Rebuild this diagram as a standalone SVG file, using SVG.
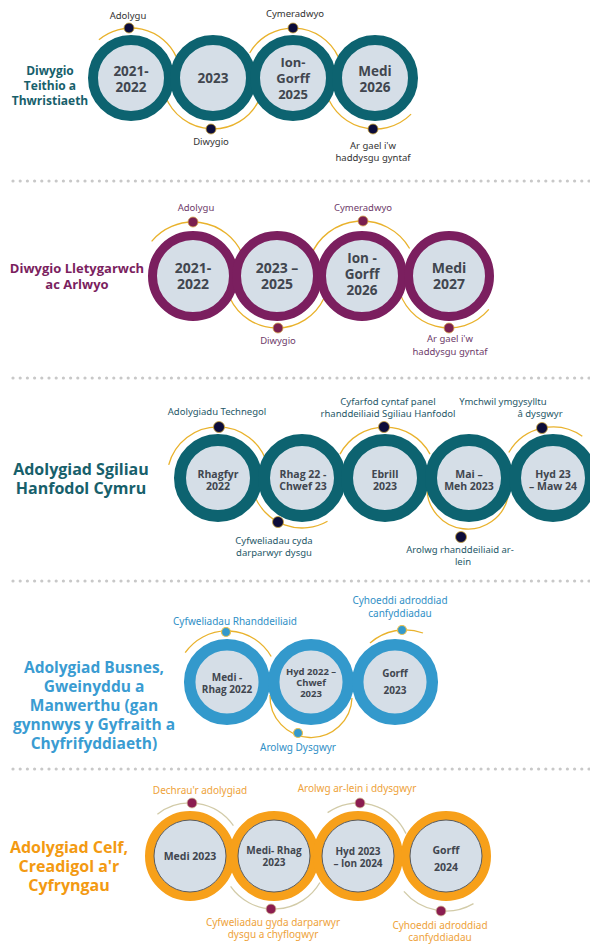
<svg xmlns="http://www.w3.org/2000/svg" width="590" height="944" viewBox="0 0 590 944">
<style>
.bg{fill:#ffffff}
.sep{stroke:#c8c8c8;stroke-width:3.2;stroke-linecap:round;stroke-dasharray:0 7.2;fill:none}
.arc{fill:none;stroke:#e9b22c;stroke-width:1.3}
.arc5{fill:none;stroke:#d2cba8;stroke-width:1.3}
.inner{fill:#d5dee7}
.r1{fill:none;stroke:#0d6370}
.r2{fill:none;stroke:#7b1f5f}
.r4{fill:none;stroke:#3399cc}
.r5{fill:none;stroke:#f7a01a}
.in5{fill:#d5dee7;stroke:#5a5a5a;stroke-width:1}
.dn{fill:#0c0c3a;stroke:#c9a33a;stroke-width:0.8}
.dp{fill:#7a1f4f;stroke:#d8a850;stroke-width:0.8}
.db{fill:#3399cc;stroke:#e8c050;stroke-width:1.2}
.dm{fill:#8b1d50;stroke:#d8c8a0;stroke-width:0.8}
.ct{font-family:"Open Sans",sans-serif;font-weight:bold;fill:#41464f;text-anchor:middle}
.tt{font-family:"Open Sans",sans-serif;font-weight:bold;text-anchor:middle}
.lb{font-family:"Noto Sans",sans-serif;text-anchor:middle}
</style>
<rect class="bg" x="0" y="0" width="590" height="944"/>

<g id="separators">
<line class="sep" x1="13" y1="181" x2="590" y2="181"/>
<line class="sep" x1="13" y1="378" x2="590" y2="378"/>
<line class="sep" x1="13" y1="581" x2="590" y2="581"/>
<line class="sep" x1="13" y1="769" x2="590" y2="769"/>
</g>

<g id="connectors">
<path class="arc" d="M98.9 39.7 A50 50 0 0 1 176.3 56.9"/>
<path class="arc" d="M259.2 99.6 A51 51 0 0 1 165.1 95.4"/>
<path class="arc" d="M249.7 53 A50 50 0 0 1 338.3 56.9"/>
<path class="arc" d="M411.1 114.1 A51 51 0 0 1 324.8 86.9"/>

<path class="arc" d="M151.6 241.3 A54 54 0 0 1 241.9 253.2"/>
<path class="arc" d="M324.1 298 A52 52 0 0 1 229.9 298"/>
<path class="arc" d="M310.3 257.2 A55 55 0 0 1 409.6 248.5"/>
<path class="arc" d="M488.8 309.4 A52 52 0 0 1 397.8 285"/>

<path class="arc" d="M168.7 464.8 A51 51 0 0 1 267.3 464.8"/>
<path class="arc" d="M327.5 521.2 A51 51 0 0 1 254.1 494.4"/>
<path class="arc" d="M340 454.1 A51 51 0 0 1 430 454.1"/>
<path class="arc" d="M508 497 A41 41 0 0 1 427 487"/>
<path class="arc" d="M508.8 452.5 A51 51 0 0 1 582.3 436.2"/>

<path class="arc" d="M185.2 652.7 A51 51 0 0 1 271.2 656.5"/>
<path class="arc" d="M352 698 A41 41 0 0 1 270 695"/>
<path class="arc" d="M370 643 A53 53 0 0 1 423 633"/>

<path class="arc5" d="M157.4 814.2 A53 53 0 0 1 233.4 825.6"/>
<path class="arc5" d="M319.9 882.5 A53 53 0 0 1 230.6 886.4"/>
<path class="arc5" d="M327.6 812.6 A53 53 0 0 1 406 833.6"/>
<path class="arc5" d="M473.5 903.6 A55 55 0 0 1 403.9 891.4"/>
</g>

<!-- Section 1 -->
<g id="title1">
<text class="tt" x="50" y="75" font-size="12" fill="#17606b">Diwygio</text>
<text class="tt" x="50" y="90" font-size="12" fill="#17606b">Teithio a</text>
<text class="tt" x="50" y="105" font-size="12" fill="#17606b">Thwristiaeth</text>
</g>
<g id="s1n1"><circle class="inner" cx="131" cy="78" r="38"/><circle class="r1" cx="131" cy="78" r="38" stroke-width="10"/>
<text class="ct" x="131" y="75.5" font-size="13.5">2021-</text><text class="ct" x="131" y="91.5" font-size="13.5">2022</text></g>
<g id="s1n2"><circle class="inner" cx="213" cy="78" r="38"/><circle class="r1" cx="213" cy="78" r="38" stroke-width="10"/>
<text class="ct" x="213" y="83" font-size="13.5">2023</text></g>
<g id="s1n3"><circle class="inner" cx="293" cy="78" r="38"/><circle class="r1" cx="293" cy="78" r="38" stroke-width="10"/>
<text class="ct" x="293" y="66.5" font-size="13">Ion-</text><text class="ct" x="293" y="82.5" font-size="13">Gorff</text><text class="ct" x="293" y="98.5" font-size="13">2025</text></g>
<g id="s1n4"><circle class="inner" cx="375" cy="78" r="38"/><circle class="r1" cx="375" cy="78" r="38" stroke-width="10"/>
<text class="ct" x="375" y="75.5" font-size="13.5">Medi</text><text class="ct" x="375" y="91.5" font-size="13.5">2026</text></g>
<g id="s1m1"><circle class="dn" cx="129" cy="28" r="5"/><text class="lb" x="128" y="19" font-size="9.5" fill="#333">Adolygu</text></g>
<g id="s1m2"><circle class="dn" cx="211" cy="129" r="5"/><text class="lb" x="211" y="145" font-size="9.5" fill="#333">Diwygio</text></g>
<g id="s1m3"><circle class="dn" cx="293" cy="28" r="5"/><text class="lb" x="295" y="17" font-size="9.5" fill="#333">Cymeradwyo</text></g>
<g id="s1m4"><circle class="dn" cx="373" cy="129" r="5"/><text class="lb" x="373" y="149" font-size="9.5" fill="#333">Ar gael i'w</text><text class="lb" x="373" y="160.5" font-size="9.5" fill="#333">haddysgu gyntaf</text></g>

<!-- Section 2 -->
<g id="title2">
<text class="tt" x="77" y="273" font-size="13" fill="#7b1f5f">Diwygio Lletygarwch</text>
<text class="tt" x="77" y="289" font-size="13" fill="#7b1f5f">ac Arlwyo</text>
</g>
<g id="s2n1"><circle class="inner" cx="193" cy="276" r="40.5"/><circle class="r2" cx="193" cy="276" r="40.5" stroke-width="9"/>
<text class="ct" x="193" y="272.5" font-size="14">2021-</text><text class="ct" x="193" y="289" font-size="14">2022</text></g>
<g id="s2n2"><circle class="inner" cx="277" cy="276" r="40.5"/><circle class="r2" cx="277" cy="276" r="40.5" stroke-width="9"/>
<text class="ct" x="277" y="272.5" font-size="14">2023 –</text><text class="ct" x="277" y="289" font-size="14">2025</text></g>
<g id="s2n3"><circle class="inner" cx="362" cy="276" r="40.5"/><circle class="r2" cx="362" cy="276" r="40.5" stroke-width="9"/>
<text class="ct" x="362" y="263" font-size="13.5">Ion -</text><text class="ct" x="362" y="279" font-size="13.5">Gorff</text><text class="ct" x="362" y="295" font-size="13.5">2026</text></g>
<g id="s2n4"><circle class="inner" cx="449" cy="276" r="40.5"/><circle class="r2" cx="449" cy="276" r="40.5" stroke-width="9"/>
<text class="ct" x="449" y="272.5" font-size="14">Medi</text><text class="ct" x="449" y="289" font-size="14">2027</text></g>
<g id="s2m1"><circle class="dp" cx="193" cy="222" r="5"/><text class="lb" x="196" y="211" font-size="9.5" fill="#6e3b6a">Adolygu</text></g>
<g id="s2m2"><circle class="dp" cx="278" cy="328" r="5"/><text class="lb" x="278" y="344" font-size="9.5" fill="#6e3b6a">Diwygio</text></g>
<g id="s2m3"><circle class="dp" cx="363" cy="221" r="5"/><text class="lb" x="363" y="211" font-size="9.5" fill="#6e3b6a">Cymeradwyo</text></g>
<g id="s2m4"><circle class="dp" cx="449" cy="328" r="5"/><text class="lb" x="450" y="342" font-size="9.5" fill="#6e3b6a">Ar gael i'w</text><text class="lb" x="450" y="355" font-size="9.5" fill="#6e3b6a">haddysgu gyntaf</text></g>

<!-- Section 3 -->
<g id="title3">
<text class="tt" x="81" y="475" font-size="16" fill="#17606b">Adolygiad Sgiliau</text>
<text class="tt" x="81" y="494" font-size="16" fill="#17606b">Hanfodol Cymru</text>
</g>
<g id="s3n1"><circle class="inner" cx="218" cy="478" r="38"/><circle class="r1" cx="218" cy="478" r="38" stroke-width="12"/>
<text class="ct" x="218" y="477.5" font-size="10.5">Rhagfyr</text><text class="ct" x="218" y="490" font-size="10.5">2022</text></g>
<g id="s3n2"><circle class="inner" cx="302" cy="478" r="38"/><circle class="r1" cx="302" cy="478" r="38" stroke-width="12"/>
<text class="ct" x="303" y="477.5" font-size="10.5">Rhag 22 -</text><text class="ct" x="303" y="490" font-size="10.5">Chwef 23</text></g>
<g id="s3n3"><circle class="inner" cx="385" cy="478" r="38"/><circle class="r1" cx="385" cy="478" r="38" stroke-width="12"/>
<text class="ct" x="385" y="477.5" font-size="10.5">Ebrill</text><text class="ct" x="385" y="490" font-size="10.5">2023</text></g>
<g id="s3n4"><circle class="inner" cx="469" cy="478" r="38"/><circle class="r1" cx="469" cy="478" r="38" stroke-width="12"/>
<text class="ct" x="469" y="477.5" font-size="10.5">Mai –</text><text class="ct" x="469" y="490" font-size="10.5">Meh 2023</text></g>
<g id="s3n5"><circle class="inner" cx="553" cy="478" r="38"/><circle class="r1" cx="553" cy="478" r="38" stroke-width="12"/>
<text class="ct" x="553" y="477.5" font-size="10.5">Hyd 23</text><text class="ct" x="553" y="490" font-size="10.5">– Maw 24</text></g>
<g id="s3m1"><circle class="dn" cx="219" cy="427" r="5.5"/><text class="lb" x="217" y="415" font-size="9.5" fill="#1f5868">Adolygiadu Technegol</text></g>
<g id="s3m2"><circle class="dn" cx="278" cy="522" r="5.5"/><text class="lb" x="274" y="544" font-size="9.5" fill="#1f5868">Cyfweliadau cyda</text><text class="lb" x="274" y="556" font-size="9.5" fill="#1f5868">darparwyr dysgu</text></g>
<g id="s3m3"><circle class="dn" cx="384" cy="427" r="5.5"/><text class="lb" x="388" y="405" font-size="9.5" fill="#1f5868">Cyfarfod cyntaf panel</text><text class="lb" x="388" y="417" font-size="9.5" fill="#1f5868">rhanddeiliaid Sgiliau Hanfodol</text></g>
<g id="s3m4"><circle class="dn" cx="461" cy="537" r="5.5"/><text class="lb" x="460" y="553" font-size="9.5" fill="#1f5868">Arolwg rhanddeiliaid ar-</text><text class="lb" x="463" y="565" font-size="9.5" fill="#1f5868">lein</text></g>
<g id="s3m5"><circle class="dn" cx="542" cy="428" r="5.5"/><text class="lb" x="503" y="405" font-size="9.5" fill="#1f5868" text-anchor="start">Ymchwil ymgysylltu</text><text class="lb" x="540" y="416.5" font-size="9.5" fill="#1f5868">â dysgwyr</text></g>

<!-- Section 4 -->
<g id="title4">
<text class="tt" x="94" y="673" font-size="15.5" fill="#3a9cd2">Adolygiad Busnes,</text>
<text class="tt" x="94" y="692" font-size="15.5" fill="#3a9cd2">Gweinyddu a</text>
<text class="tt" x="94" y="711" font-size="15.5" fill="#3a9cd2">Manwerthu (gan</text>
<text class="tt" x="94" y="730" font-size="15.5" fill="#3a9cd2">gynnwys y Gyfraith a</text>
<text class="tt" x="94" y="748.5" font-size="15.5" fill="#3a9cd2">Chyfrifyddiaeth)</text>
</g>
<g id="s4n1"><circle class="inner" cx="227" cy="682" r="37.3"/><circle class="r4" cx="227" cy="682" r="37.3" stroke-width="11.5"/>
<text class="ct" x="227" y="680.5" font-size="10">Medi  -</text><text class="ct" x="227" y="693" font-size="10">Rhag 2022</text></g>
<g id="s4n2"><circle class="inner" cx="311" cy="682" r="37.3"/><circle class="r4" cx="311" cy="682" r="37.3" stroke-width="11.5"/>
<text class="ct" x="311" y="675" font-size="9.5">Hyd 2022 –</text><text class="ct" x="311" y="686" font-size="9.5">Chwef</text><text class="ct" x="311" y="697" font-size="9.5">2023</text></g>
<g id="s4n3"><circle class="inner" cx="395" cy="682" r="37.3"/><circle class="r4" cx="395" cy="682" r="37.3" stroke-width="11.5"/>
<text class="ct" x="395" y="677" font-size="10">Gorff</text><text class="ct" x="395" y="694" font-size="10">2023</text></g>
<g id="s4m1"><circle class="db" cx="226" cy="632" r="4.5"/><text class="lb" x="235" y="625" font-size="10" fill="#2f8fc6">Cyfweliadau Rhanddeiliaid</text></g>
<g id="s4m2"><circle class="db" cx="298" cy="733" r="4.5"/><text class="lb" x="298" y="751" font-size="10" fill="#2f8fc6">Arolwg Dysgwyr</text></g>
<g id="s4m3"><circle class="db" cx="402" cy="630" r="4.5"/><text class="lb" x="400" y="604" font-size="10" fill="#2f8fc6">Cyhoeddi adroddiad</text><text class="lb" x="400" y="617" font-size="10" fill="#2f8fc6">canfyddiadau</text></g>

<!-- Section 5 -->
<g id="title5">
<text class="tt" x="69" y="853" font-size="16" fill="#f39a12">Adolygiad Celf,</text>
<text class="tt" x="69" y="872" font-size="16" fill="#f39a12">Creadigol a'r</text>
<text class="tt" x="69" y="891" font-size="16" fill="#f39a12">Cyfryngau</text>
</g>
<g id="s5n1"><circle class="r5" cx="190" cy="856" r="40.5" stroke-width="9"/><circle class="in5" cx="190" cy="856" r="36"/>
<text class="ct" x="190" y="859.5" font-size="10.5">Medi 2023</text></g>
<g id="s5n2"><circle class="r5" cx="274" cy="856" r="40.5" stroke-width="9"/><circle class="in5" cx="274" cy="856" r="36"/>
<text class="ct" x="274" y="853.5" font-size="10">Medi- Rhag</text><text class="ct" x="274" y="865.5" font-size="10">2023</text></g>
<g id="s5n3"><circle class="r5" cx="358" cy="856" r="40.5" stroke-width="9"/><circle class="in5" cx="358" cy="856" r="36"/>
<text class="ct" x="358" y="854.5" font-size="10">Hyd 2023</text><text class="ct" x="358" y="866.5" font-size="10">– Ion 2024</text></g>
<g id="s5n4"><circle class="r5" cx="446" cy="856" r="40.5" stroke-width="9"/><circle class="in5" cx="446" cy="856" r="36"/>
<text class="ct" x="446" y="854" font-size="10.5">Gorff</text><text class="ct" x="446" y="871" font-size="10.5">2024</text></g>
<g id="s5m1"><circle class="dm" cx="192" cy="803" r="5"/><text class="lb" x="200" y="794" font-size="10" fill="#eea23a">Dechrau'r adolygiad</text></g>
<g id="s5m2"><circle class="dm" cx="271" cy="909" r="5"/><text class="lb" x="273" y="926" font-size="10" fill="#eea23a">Cyfweliadau gyda darparwyr</text><text class="lb" x="273" y="937.5" font-size="10" fill="#eea23a">dysgu a chyflogwyr</text></g>
<g id="s5m3"><circle class="dm" cx="360" cy="803" r="5"/><text class="lb" x="357" y="792" font-size="10" fill="#eea23a">Arolwg ar-lein i ddysgwyr</text></g>
<g id="s5m4"><circle class="dm" cx="441" cy="911" r="5"/><text class="lb" x="440" y="929" font-size="10" fill="#eea23a">Cyhoeddi adroddiad</text><text class="lb" x="440" y="941" font-size="10" fill="#eea23a">canfyddiadau</text></g>
</svg>
